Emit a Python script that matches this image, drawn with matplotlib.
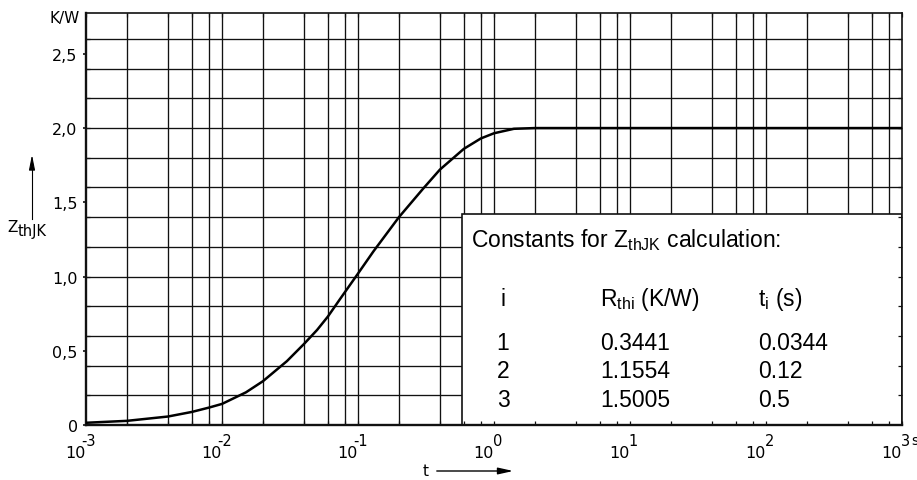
import matplotlib.pyplot as plt
import numpy as np
from matplotlib.patches import Rectangle
from matplotlib.ticker import FixedLocator, LogLocator, NullFormatter

# transient thermal impedance
t_s = [1e-3, 2e-3, 4e-3, 6e-3, 8e-3, 1e-2, 1.5e-2, 2e-2, 3e-2, 4e-2, 5e-2, 6e-2,
       7.4e-2, 0.1, 0.13, 0.2, 0.3, 0.4, 0.6, 0.8, 1.0, 1.4, 2.0, 10.0, 100.0, 1000.0]
z_th = [0.015, 0.028, 0.057, 0.088, 0.117, 0.142, 0.22, 0.295, 0.43, 0.545, 0.64, 0.73,
        0.85, 1.02, 1.17, 1.40, 1.59, 1.72, 1.86, 1.93, 1.965, 1.995, 2.0, 2.0, 2.0, 2.0]

# y tick labels (german decimal comma) and grid
y_ticks = [0, 0.5, 1.0, 1.5, 2.0, 2.5]
y_labels = ["0", "0,5", "1,0", "1,5", "2,0", "2,5"]
y_grid = [0.2, 0.4, 0.6, 0.8, 1.0, 1.2, 1.4, 1.6, 1.8, 2.0, 2.2, 2.4, 2.6]
decades = [-3, -2, -1, 0, 1, 2, 3]

# constants table
idx = [1, 2, 3]
r_thi = [0.3441, 1.1554, 1.5005]
tau_i = [0.0344, 0.12, 0.5]

plt.rcParams["font.family"] = "DejaVu Sans"
plt.rcParams["mathtext.default"] = "regular"
TABLE_FONT = "Liberation Sans"

fig = plt.figure(figsize=(9.17, 4.81), dpi=100)
ax = fig.add_axes([86 / 917, 1 - 426 / 481, 816 / 917, 412 / 481])

ax.set_xscale("log")
ax.set_xlim(1e-3, 1e3)
ax.set_ylim(0, 2.775)

# grid drawn by hand so the table box can sit above it but under the ticks
ax.xaxis.set_major_locator(LogLocator(base=10, numticks=20))
ax.xaxis.set_minor_locator(LogLocator(base=10, subs=(2, 4, 6, 8), numticks=20))
ax.xaxis.set_minor_formatter(NullFormatter())
ax.set_xticklabels([])
ax.yaxis.set_major_locator(FixedLocator(y_ticks))
ax.set_yticklabels(y_labels)
ax.yaxis.set_minor_locator(FixedLocator(y_grid))
ax.yaxis.remove_overlapping_locs = False

fig.canvas.draw()
xs = [v for v in list(ax.get_xticks()) + list(ax.xaxis.get_minorticklocs()) if 1e-3 < v < 1e3]
ax.vlines(xs, 0, 1, transform=ax.get_xaxis_transform(), color="#111111", lw=0.95, zorder=1)
ax.hlines(y_grid, 0, 1, transform=ax.get_yaxis_transform(), color="#111111", lw=0.95, zorder=1)

ax.set_axisbelow(False)
ax.tick_params(axis="x", which="both", direction="in", length=3, width=0.9, top=True,
               bottom=True, color="#111111")
ax.tick_params(axis="y", which="minor", direction="in", length=3, width=0.9, left=True,
               right=True, color="#111111")
ax.tick_params(axis="y", which="major", direction="out", length=2, width=1.2, pad=4,
               labelsize=11.5, color="#111111")
for side, lw in (("left", 1.7), ("bottom", 1.7), ("top", 1.2), ("right", 1.2)):
    ax.spines[side].set_linewidth(lw)
    ax.spines[side].set_color("#111111")

ax.plot(t_s, z_th, color="black", lw=1.8, zorder=3, solid_capstyle="butt")

# x tick labels: "10" with a nearly full-size raised exponent
for e in decades:
    ax.annotate("10", (10.0 ** e, 0), xycoords=("data", "axes fraction"),
                xytext=(-0.5, -20), textcoords="offset points",
                ha="right", va="center", fontsize=11.5, annotation_clip=False)
    ax.annotate(str(e), (10.0 ** e, 0), xycoords=("data", "axes fraction"),
                xytext=(-3.5 if e < 0 else -1, -11), textcoords="offset points",
                ha="left", va="center", fontsize=10.5, annotation_clip=False)
fig.text(911 / 917, 1 - 441 / 481, "s", ha="left", va="center", fontsize=10)

# axis captions with arrows
fig.text(80 / 917, 1 - 19 / 481, "K/W", ha="right", va="center", fontsize=11)
fig.text(7 / 917, 1 - 232 / 481, "Z", ha="left", va="baseline", fontsize=11)
fig.text(18 / 917, 1 - 236 / 481, "thJK", ha="left", va="baseline", fontsize=10.5)
fig.add_artist(plt.Line2D([32 / 917, 32 / 917], [1 - 220 / 481, 1 - 165 / 481],
                          color="black", lw=0.8))
ax.annotate("", xy=(32 / 917, 1 - 153 / 481), xytext=(32 / 917, 1 - 168 / 481),
            xycoords="figure fraction",
            arrowprops=dict(arrowstyle="-|>,head_length=0.9,head_width=0.18",
                            color="black", lw=0.8, mutation_scale=10))
fig.text(426 / 917, 1 - 472 / 481, "t", ha="center", va="center", fontsize=11)
ax.annotate("", xy=(516 / 917, 1 - 472 / 481), xytext=(434 / 917, 1 - 472 / 481),
            xycoords="figure fraction",
            arrowprops=dict(arrowstyle="-|>,head_length=0.9,head_width=0.2",
                            color="black", lw=1.0, mutation_scale=10))

# constants table box
box_x = (462 - 86) / 816
box_top = (426 - 215) / 412
ax.add_patch(Rectangle((box_x, 0), 1 - box_x, box_top, transform=ax.transAxes,
                       facecolor="white", edgecolor="#111111", lw=1.2, zorder=2))

def px_x(x):
    return (x - 86) / 816


def px_y(y):
    return (426 - y) / 412


tkw = dict(transform=ax.transAxes, fontsize=16.5, family=TABLE_FONT, va="baseline", zorder=4)
ax.text(px_x(471), px_y(247), "Constants for $Z_{thJK}$ calculation:", ha="left", **tkw)
ax.text(px_x(503), px_y(306), "i", ha="center", **tkw)
ax.text(px_x(600), px_y(306), "R$_{thi}$ (K/W)", ha="left", **tkw)
ax.text(px_x(758), px_y(306), "t$_{i}$ (s)", ha="left", **tkw)
for k, (i, r, tau) in enumerate(zip(idx, r_thi, tau_i)):
    yb = px_y(350 + 28.5 * k)
    ax.text(px_x(503), yb, str(i), ha="center", **tkw)
    ax.text(px_x(600), yb, str(r), ha="left", **tkw)
    ax.text(px_x(758), yb, str(tau), ha="left", **tkw)

fig.savefig("out.png", dpi=100, facecolor="white")
